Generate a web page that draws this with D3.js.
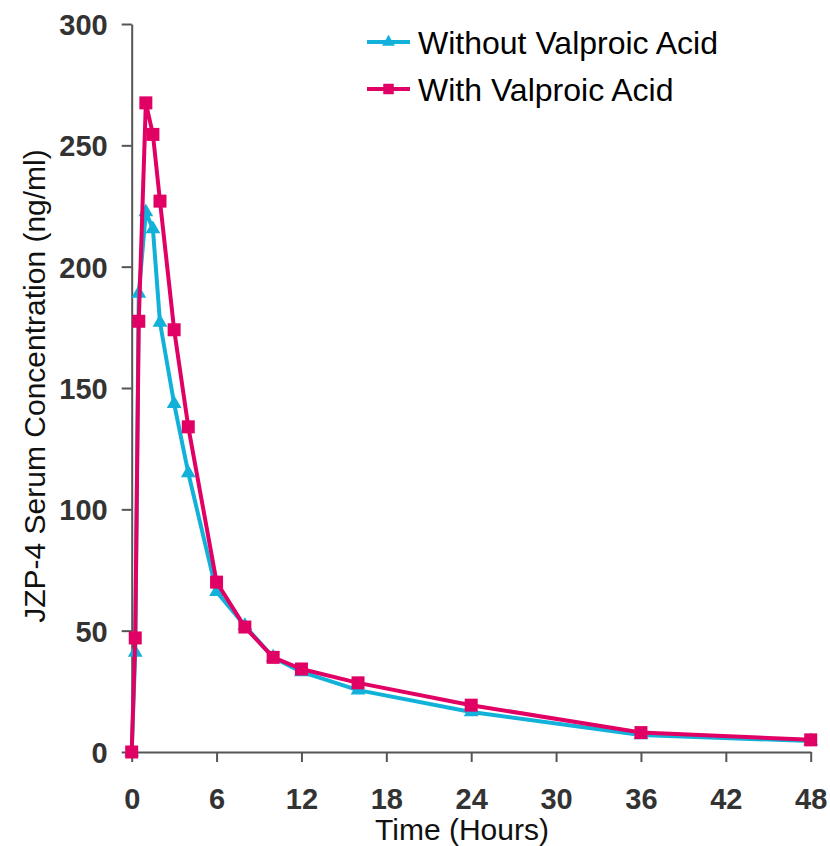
<!DOCTYPE html>
<html>
<head>
<meta charset="utf-8">
<script src="https://cdn.jsdelivr.net/npm/d3@7"></script>
<style>
  html, body { margin: 0; padding: 0; background: #fff; }
  svg { display: block; }
</style>
</head>
<body>
<svg id="chart" width="830" height="846"></svg>
<script>
// ---- data ----
const times = [0, 0.25, 0.5, 1, 1.5, 2, 3, 4, 6, 8, 10, 12, 16, 24, 36, 48];
const withoutVPA = [0, 41, 189, 222.5, 215.5, 177, 143.5, 115, 66, 52, 39, 33, 25.5, 16.5, 7, 4.5];
const withVPA = [0, 47, 177.5, 267.5, 254.5, 227, 174, 134, 70, 51.5, 39, 34.2, 28.5, 19.3, 8, 5];
const seriesNames = ["Without Valproic Acid", "With Valproic Acid"];
const xTicks = [0, 6, 12, 18, 24, 30, 36, 42, 48];
const yTicks = [0, 50, 100, 150, 200, 250, 300];
const xTitle = "Time (Hours)";
const yTitle = "JZP-4 Serum Concentration (ng/ml)";

const colors = ["#12b1da", "#e10064"];
const symbols = [d3.symbolTriangle, d3.symbolSquare];

const svg = d3.select("#chart");
const font = "'Liberation Sans', Arial, sans-serif";

const x = d3.scaleLinear().domain([0, 48]).range([131.7, 810.7]);
const y = d3.scaleLinear().domain([0, 300]).range([752, 24]);

// axes
const xAxis = d3.axisBottom(x).tickValues(xTicks).tickSize(10).tickPadding(26).tickSizeOuter(0);
const yAxis = d3.axisLeft(y).tickValues(yTicks).tickSize(10).tickPadding(14).tickSizeOuter(0);

const gx = svg.append("g").attr("transform", `translate(0,${y(0)})`).call(xAxis);
const gy = svg.append("g").attr("transform", `translate(${x(0)},0)`).call(yAxis);

[gx, gy].forEach(g => {
  g.select(".domain").attr("stroke", "#555").attr("stroke-width", 2);
  g.selectAll(".tick line").attr("stroke", "#555").attr("stroke-width", 2);
  g.selectAll(".tick text")
    .attr("font-family", font)
    .attr("font-weight", "bold")
    .attr("font-size", 29)
    .attr("fill", "#333");
});
gy.selectAll(".tick text").attr("dy", "0.36em");

// titles
svg.append("text")
  .attr("x", 462).attr("y", 840)
  .attr("text-anchor", "middle")
  .attr("font-family", font).attr("font-size", 30).attr("fill", "#111")
  .text(xTitle);

svg.append("text")
  .attr("transform", `translate(45,386) rotate(-90)`)
  .attr("text-anchor", "middle")
  .attr("font-family", font).attr("font-size", 30).attr("fill", "#111")
  .text(yTitle);

// series
const data = [withoutVPA, withVPA];
const line = d3.line().x(d => x(d[0])).y(d => y(d[1]));
const markerSizes = [95, 169];

data.forEach((vals, i) => {
  const pts = times.map((t, j) => [t, vals[j]]);
  const g = svg.append("g");
  g.append("path").attr("d", line(pts))
    .attr("fill", "none").attr("stroke", colors[i]).attr("stroke-width", 4)
    .attr("stroke-linejoin", "round");
  g.selectAll("path.m").data(pts).join("path").attr("class", "m")
    .attr("transform", d => `translate(${x(d[0])},${y(d[1])})`)
    .attr("d", d3.symbol().type(symbols[i]).size(markerSizes[i]))
    .attr("fill", colors[i]);
});

// legend
const legY = [42, 89];
seriesNames.forEach((name, i) => {
  const g = svg.append("g").attr("transform", `translate(0,${legY[i]})`);
  g.append("line").attr("x1", 367).attr("x2", 410).attr("y1", 0).attr("y2", 0)
    .attr("stroke", colors[i]).attr("stroke-width", 4);
  g.append("path").attr("transform", "translate(388.5,0)")
    .attr("d", d3.symbol().type(symbols[i]).size(i === 0 ? 70 : 110))
    .attr("fill", colors[i]);
  g.append("text").attr("x", 418).attr("y", 0).attr("dy", "0.36em")
    .attr("font-family", font).attr("font-size", 32).attr("fill", "#000")
    .text(name);
});
</script>
</body>
</html>
